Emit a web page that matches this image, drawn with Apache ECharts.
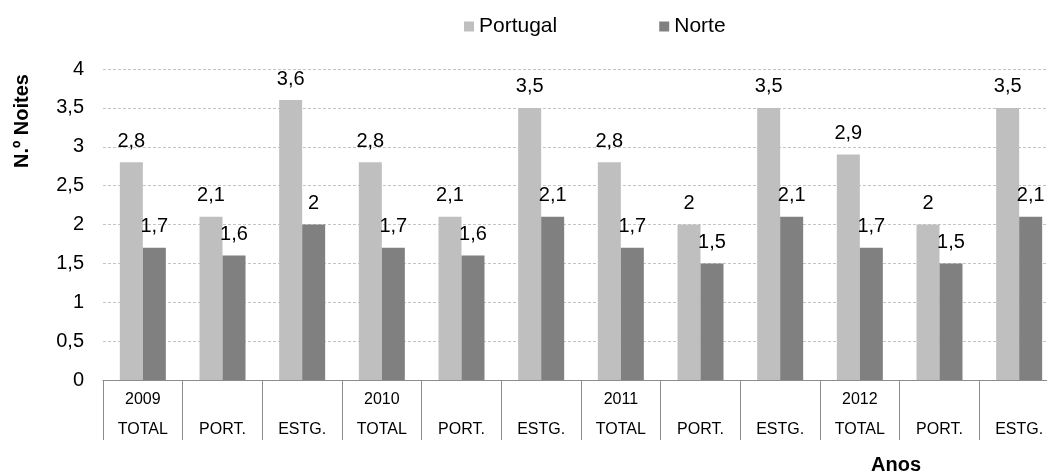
<!DOCTYPE html>
<html>
<head>
<meta charset="utf-8">
<script src="https://cdn.jsdelivr.net/npm/echarts@6/dist/echarts.min.js"></script>
<style>
    html, body { margin: 0; padding: 0; background: #fff; }
    #J_chart { width: 1047px; height: 473px; }
</style>
</head>
<body>
<div id="J_chart"></div>
<script>
const FONT = 'Liberation Sans, Arial, sans-serif';

// 数据
const years = ['2009', '', '', '2010', '', '', '2011', '', '', '2012', '', ''];
const groups = ['TOTAL', 'PORT.', 'ESTG.', 'TOTAL', 'PORT.', 'ESTG.', 'TOTAL', 'PORT.', 'ESTG.', 'TOTAL', 'PORT.', 'ESTG.'];
const portugal = [2.8, 2.1, 3.6, 2.8, 2.1, 3.5, 2.8, 2.0, 3.5, 2.9, 2.0, 3.5];
const norte = [1.7, 1.6, 2.0, 1.7, 1.6, 2.1, 1.7, 1.5, 2.1, 1.7, 1.5, 2.1];

const categories = groups.map((g, i) => years[i] + '\n' + g);

function comma(v) {
    return String(v).replace('.', ',');
}

function barLabel() {
    return {
        show: true,
        position: 'top',
        distance: 11,
        color: '#000',
        fontSize: 20,
        fontFamily: FONT,
        formatter: function (p) {
            return comma(p.value);
        }
    };
}

function initChart() {
    let options = {
        animation: false,
        textStyle: { fontFamily: FONT },
        legend: {
            left: 459,
            top: 11,
            itemWidth: 10,
            itemHeight: 10,
            itemGap: 102,
            icon: 'rect',
            textStyle: {
                fontSize: 21,
                color: '#000',
                fontFamily: FONT
            },
            data: ['Portugal', 'Norte']
        },
        grid: {
            left: 103,
            top: 69,
            width: 956,
            height: 311,
            outerBoundsMode: 'none'
        },
        xAxis: {
            type: 'category',
            data: categories,
            axisLine: {
                show: true,
                lineStyle: { color: '#8c8c8c', width: 1 }
            },
            axisTick: {
                show: true,
                interval: 0,
                length: 60,
                lineStyle: { color: '#8c8c8c', width: 1 }
            },
            axisLabel: {
                interval: 0,
                margin: 5,
                fontSize: 16,
                lineHeight: 30,
                color: '#000',
                fontFamily: FONT
            }
        },
        yAxis: {
            type: 'value',
            min: 0,
            max: 4,
            interval: 0.5,
            axisLine: { show: false },
            axisTick: { show: false },
            axisLabel: {
                margin: 19,
                fontSize: 20,
                color: '#000',
                fontFamily: FONT,
                formatter: comma
            },
            splitLine: {
                lineStyle: {
                    color: '#c4c4c4',
                    type: [3, 2],
                    width: 1
                }
            }
        },
        series: [{
            name: 'Portugal',
            type: 'bar',
            barWidth: 23,
            barGap: 0,
            itemStyle: { color: '#bfbfbf' },
            label: barLabel(),
            data: portugal
        }, {
            name: 'Norte',
            type: 'bar',
            barWidth: 23,
            barGap: 0,
            itemStyle: { color: '#808080' },
            label: barLabel(),
            data: norte
        }],
        graphic: [{
            type: 'text',
            x: 22,
            y: 121,
            rotation: Math.PI / 2,
            style: {
                text: 'N.º Noites',
                font: 'bold 20px ' + FONT,
                fill: '#000',
                align: 'center',
                verticalAlign: 'middle'
            }
        }, {
            type: 'text',
            x: 896,
            y: 465,
            style: {
                text: 'Anos',
                font: 'bold 20px ' + FONT,
                fill: '#000',
                align: 'center',
                verticalAlign: 'middle'
            }
        }]
    };
    let chart = echarts.init(document.getElementById('J_chart'));
    chart.setOption(options);
}

initChart();
</script>
</body>
</html>
